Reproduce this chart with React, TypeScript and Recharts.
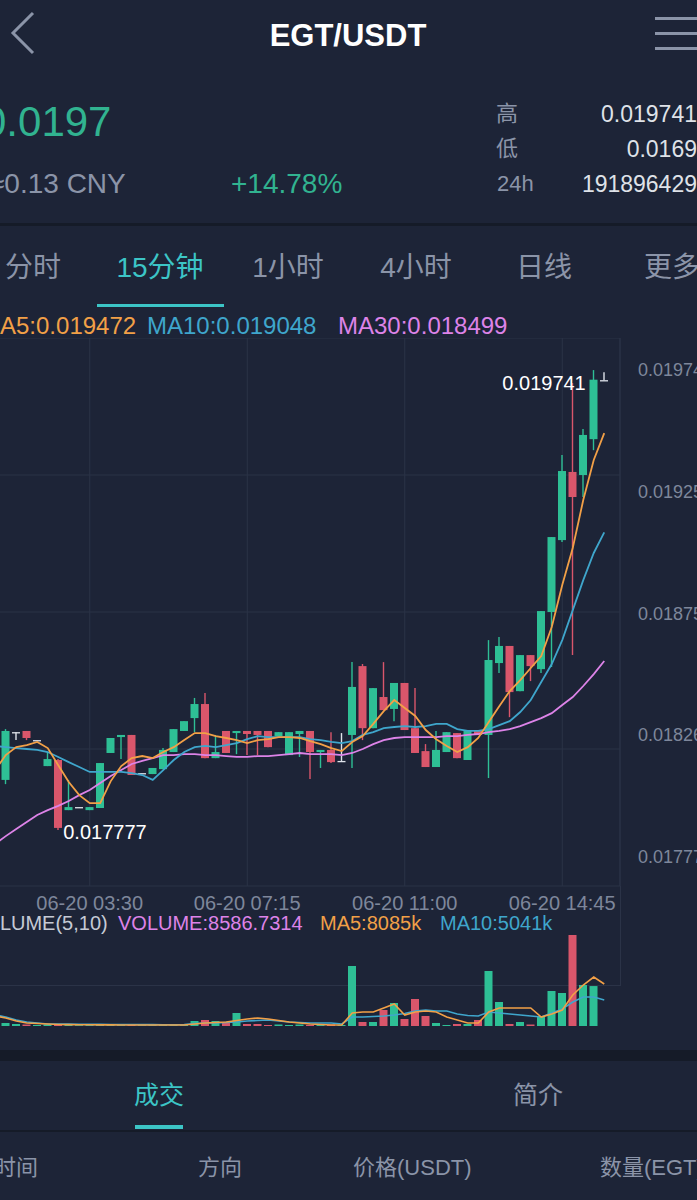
import React from "react";
import { ComposedChart, Bar, Line, XAxis, YAxis, CartesianGrid, ReferenceDot } from "recharts";

const W = 697;
const H = 1200;
const FONT = "'Liberation Sans', Arial, 'Noto Sans CJK SC', sans-serif";

const BG = "#1d2437";
const DARK = "#151b28";
const GRID = "#2b3347";
const GREEN = "#2ebf95";
const RED = "#d9566b";
const DOJI = "#dfe3ea";
const ORANGE = "#f2a047";
const BLUE = "#3fa6cc";
const PINK = "#dd83e8";
const TEAL = "#3cc5c6";
const GREY = "#8b94a8";
const AXIS_TEXT = "#7e879b";
const PRICE_GREEN = "#31b390";

// 15-minute slots (first slot is just left of the visible area, last one empty)
const TIMES = [
  "06-20 01:15", "06-20 01:30", "06-20 01:45", "06-20 02:00", "06-20 02:15", "06-20 02:30", "06-20 02:45", "06-20 03:00",
  "06-20 03:15", "06-20 03:30", "06-20 03:45", "06-20 04:00", "06-20 04:15", "06-20 04:30", "06-20 04:45", "06-20 05:00",
  "06-20 05:15", "06-20 05:30", "06-20 05:45", "06-20 06:00", "06-20 06:15", "06-20 06:30", "06-20 06:45", "06-20 07:00",
  "06-20 07:15", "06-20 07:30", "06-20 07:45", "06-20 08:00", "06-20 08:15", "06-20 08:30", "06-20 08:45", "06-20 09:00",
  "06-20 09:15", "06-20 09:30", "06-20 09:45", "06-20 10:00", "06-20 10:15", "06-20 10:30", "06-20 10:45", "06-20 11:00",
  "06-20 11:15", "06-20 11:30", "06-20 11:45", "06-20 12:00", "06-20 12:15", "06-20 12:30", "06-20 12:45", "06-20 13:00",
  "06-20 13:15", "06-20 13:30", "06-20 13:45", "06-20 14:00", "06-20 14:15", "06-20 14:30", "06-20 14:45", "06-20 15:00",
  "06-20 15:15", "06-20 15:30", "06-20 15:45", "06-20 16:00",
];

// candles start at 01:30
const OPEN = [
  0.017991, 0.018195, 0.0182, 0.018161, 0.01805, 0.018076, 0.017862, 0.017875, 0.017862, 0.017871,
  0.018106, 0.018174, 0.018183, 0.01802, 0.018016, 0.018037, 0.01811, 0.0182, 0.018255, 0.018315,
  0.018084, 0.0182, 0.018191, 0.0182, 0.0182, 0.0182, 0.018178, 0.018097, 0.018187, 0.0182,
  0.01811, 0.018119, 0.018072, 0.018183, 0.018477, 0.018212, 0.018345, 0.018294, 0.018405, 0.018212,
  0.018114, 0.018046, 0.01811, 0.018191, 0.018076, 0.018204, 0.018183, 0.01849, 0.018563, 0.01837,
  0.018524, 0.018464, 0.018708, 0.019015, 0.019306, 0.019293, 0.019446, 0.019698,
];
const CLOSE = [
  0.0182, 0.018195, 0.01817, 0.018161, 0.01808, 0.017786, 0.017875, 0.017875, 0.017875, 0.018063,
  0.01817, 0.018183, 0.018012, 0.01802, 0.018042, 0.018119, 0.018208, 0.018242, 0.018315, 0.018084,
  0.01811, 0.018106, 0.0182, 0.018187, 0.018183, 0.018131, 0.018195, 0.018195, 0.0182, 0.01811,
  0.018119, 0.018067, 0.018072, 0.018388, 0.018212, 0.018383, 0.018289, 0.018405, 0.018204, 0.018106,
  0.018046, 0.018119, 0.018195, 0.018084, 0.0182, 0.018183, 0.018503, 0.018563, 0.018366, 0.018524,
  0.018477, 0.018712, 0.019028, 0.01931, 0.019199, 0.019464, 0.0197, 0.019698,
];
const HIGH = [
  0.018208, 0.018195, 0.0182, 0.018161, 0.01811, 0.01808, 0.017991, 0.017875, 0.017875, 0.018063,
  0.01817, 0.018183, 0.018183, 0.01802, 0.018042, 0.018127, 0.018208, 0.018242, 0.018341, 0.018362,
  0.018183, 0.0182, 0.0182, 0.0182, 0.0182, 0.0182, 0.018195, 0.018195, 0.0182, 0.0182,
  0.018119, 0.018195, 0.018191, 0.018494, 0.018486, 0.018383, 0.018494, 0.018405, 0.018405, 0.018383,
  0.018144, 0.0182, 0.018195, 0.018191, 0.0182, 0.018204, 0.018588, 0.018601, 0.018563, 0.018524,
  0.018524, 0.018712, 0.019028, 0.019378, 0.019686, 0.019489, 0.019741, 0.019732,
];
const LOW = [
  0.017973, 0.018161, 0.018161, 0.018161, 0.01805, 0.017777, 0.017862, 0.017875, 0.017862, 0.017871,
  0.018106, 0.01808, 0.018012, 0.01802, 0.018016, 0.018037, 0.01811, 0.0182, 0.018195, 0.018084,
  0.018084, 0.018106, 0.018101, 0.018097, 0.018097, 0.018131, 0.018178, 0.018097, 0.018089, 0.017995,
  0.018042, 0.018063, 0.018072, 0.018042, 0.018161, 0.018212, 0.018289, 0.018242, 0.018204, 0.018106,
  0.018046, 0.018046, 0.01811, 0.018084, 0.018076, 0.018183, 0.017999, 0.018447, 0.018259, 0.01837,
  0.018413, 0.018447, 0.018473, 0.019007, 0.018524, 0.019199, 0.019399, 0.019698,
];
// volume in thousands
const VOLUME = [
  645, 430, 320, 215, 320, 430, 260, 180, 210, 300,
  240, 190, 220, 170, 200, 230, 280, 430, 1075, 1290,
  1075, 645, 2795, 430, 430, 215, 320, 215, 320, 215,
  215, 320, 215, 12900, 860, 860, 3440, 4945, 1505, 5805,
  2150, 645, 215, 430, 430, 1290, 11825, 5160, 430, 860,
  320, 2150, 7525, 7095, 19565, 8815, 8587, null,
];

// moving averages start at slot 0 (01:15)
const MA5 = [
  0.018033, 0.018097, 0.018131, 0.01814, 0.018153, 0.018127, 0.018054, 0.017982, 0.017926, 0.017892,
  0.017892, 0.017986, 0.01805, 0.018084, 0.018093, 0.018084, 0.01811, 0.018131, 0.018161, 0.018191,
  0.018191, 0.018178, 0.01817, 0.018161, 0.018148, 0.018161, 0.018165, 0.018174, 0.018174, 0.01817,
  0.018157, 0.018144, 0.018127, 0.018114, 0.018153, 0.018178, 0.01823, 0.018285, 0.018332, 0.018298,
  0.018264, 0.018204, 0.018165, 0.018136, 0.01811, 0.018131, 0.01817, 0.018238, 0.018306, 0.01837,
  0.018417, 0.018469, 0.01852, 0.018644, 0.018823, 0.018981, 0.019186, 0.019357, 0.019472,
];
const MA10 = [
  0.018136, 0.018131, 0.018127, 0.018123, 0.018119, 0.01811, 0.018089, 0.018067, 0.018046, 0.018025,
  0.018025, 0.018025, 0.018025, 0.01802, 0.018012, 0.017991, 0.018033, 0.018076, 0.01811, 0.018131,
  0.018136, 0.018131, 0.01814, 0.018148, 0.018165, 0.018178, 0.018174, 0.018174, 0.018174, 0.018174,
  0.018165, 0.018161, 0.018153, 0.018148, 0.018157, 0.018183, 0.018195, 0.018212, 0.018217, 0.018221,
  0.018217, 0.018221, 0.01823, 0.01823, 0.018208, 0.0182, 0.0182, 0.018208, 0.018225, 0.018242,
  0.018281, 0.018332, 0.018409, 0.018486, 0.018588, 0.018716, 0.018844, 0.01896, 0.019048,
];
const MA30 = [
  0.017717, 0.017751, 0.017781, 0.017811, 0.017841, 0.017862, 0.01788, 0.017901, 0.017926, 0.017948,
  0.017978, 0.018008, 0.018033, 0.018059, 0.018072, 0.018084, 0.018097, 0.018097, 0.018101, 0.018101,
  0.018097, 0.018097, 0.018093, 0.018089, 0.018089, 0.018093, 0.018093, 0.018097, 0.018101, 0.018106,
  0.018101, 0.018101, 0.018101, 0.018097, 0.018106, 0.018123, 0.018144, 0.018161, 0.01817, 0.018174,
  0.018174, 0.018174, 0.018174, 0.018178, 0.018178, 0.018183, 0.018187, 0.018195, 0.0182, 0.018208,
  0.018221, 0.018238, 0.018255, 0.018276, 0.018311, 0.018345, 0.018392, 0.018443, 0.018499,
];
const VOL_MA5 = [
  2150, 1720, 1075, 645, 540, 430, 320, 300, 280, 260,
  250, 240, 230, 230, 220, 220, 220, 220, 230, 430,
  645, 750, 860, 1180, 1505, 1720, 1505, 1180, 860, 645,
  430, 320, 215, 215, 2795, 3010, 3010, 3870, 4730, 2365,
  3010, 3225, 3010, 1935, 1290, 645, 645, 3010, 3870, 3870,
  3870, 3870, 1935, 2580, 3440, 6665, 8815, 10535, 9030,
];
const VOL_MA10 = [
  2365, 1935, 1290, 860, 645, 430, 420, 400, 380, 360,
  340, 330, 320, 310, 300, 290, 280, 280, 300, 540,
  645, 645, 750, 860, 1075, 1180, 1290, 1075, 860, 750,
  645, 645, 645, 430, 1935, 1935, 2040, 2150, 2365, 2690,
  3225, 3440, 3225, 3225, 2580, 2260, 2150, 3010, 2795, 2580,
  2365, 2150, 1935, 2795, 3655, 5160, 6235, 6235, 5590,
];

const X_TICKS = ["06-20 03:30", "06-20 07:15", "06-20 11:00", "06-20 14:45"];
const Y_TICK_VALUES = [0.019741, 0.01922, 0.018699, 0.018183, 0.017662];
const Y_TICK_LABELS = ["0.019741", "0.019250", "0.018759", "0.018268", "0.017777"];
const PRICE_DOMAIN: [number, number] = [0.017538, 0.019878];
const VOL_DOMAIN: [number, number] = [0, 30100];
const GRID_TICKS = [0, 1, 2, 3, 4].map(
  (k) => PRICE_DOMAIN[0] + (k * (PRICE_DOMAIN[1] - PRICE_DOMAIN[0])) / 4
);

const data = TIMES.map((t, s) => {
  const i = s - 1;
  const has = i >= 0 && i < OPEN.length;
  return {
    t,
    o: has ? OPEN[i] : null,
    c: has ? CLOSE[i] : null,
    h: has ? HIGH[i] : null,
    l: has ? LOW[i] : null,
    v: has ? VOLUME[i] : null,
    ma5: s < MA5.length ? MA5[s] : null,
    ma10: s < MA10.length ? MA10[s] : null,
    ma30: s < MA30.length ? MA30[s] : null,
    vma5: s < VOL_MA5.length ? VOL_MA5[s] : null,
    vma10: s < VOL_MA10.length ? VOL_MA10[s] : null,
  };
});

const maxHigh = Math.max(...HIGH);
const minLow = Math.min(...LOW);
const maxIdx = HIGH.indexOf(maxHigh);
const minIdx = LOW.indexOf(minLow);

const candleRange = (d: any) => (d.o == null ? null : [d.l, d.h]);

function Candle(props: any) {
  const { x, y, width, height, payload } = props;
  if (!payload || payload.o == null) return null;
  const { o, c, h, l } = payload;
  const span = h - l;
  const toY = (v: number) => (span > 0 ? y + ((h - v) / span) * height : y);
  const color = c > o ? GREEN : c < o ? RED : DOJI;
  const cx = x + width / 2;
  const yo = toY(o);
  const yc = toY(c);
  const top = Math.min(yo, yc);
  const bh = Math.max(Math.abs(yo - yc), 1.3);
  return (
    <g>
      {height > 0 && <line x1={cx} x2={cx} y1={y} y2={y + height} stroke={color} strokeWidth={1.4} />}
      <rect x={x} y={top} width={width} height={bh} fill={color} />
    </g>
  );
}

function VolBar(props: any) {
  const { x, y, width, height, payload } = props;
  if (!payload || payload.v == null) return null;
  const color = payload.c < payload.o ? RED : GREEN;
  return <rect x={x} y={y} width={width} height={Math.max(height, 0.8)} fill={color} />;
}

type TProps = {
  x: number;
  cy: number;
  size: number;
  color: string;
  anchor?: "start" | "middle" | "end";
  weight?: number;
  children: React.ReactNode;
};
function T({ x, cy, size, color, anchor = "start", weight = 400, children }: TProps) {
  const h = Math.round(size * 1.2);
  const style: React.CSSProperties = {
    position: "absolute",
    top: cy - h / 2,
    height: h,
    lineHeight: `${h}px`,
    fontSize: size,
    color,
    fontWeight: weight,
    fontFamily: FONT,
    whiteSpace: "nowrap",
  };
  if (anchor === "start") style.left = x;
  else if (anchor === "end") style.right = W - x;
  else {
    style.left = x;
    style.transform = "translateX(-50%)";
  }
  return <div style={style}>{children}</div>;
}

const Box = ({ l, t, w, h, c }: { l: number; t: number; w: number; h: number; c: string }) => (
  <div style={{ position: "absolute", left: l, top: t, width: w, height: h, background: c }} />
);

export default function App() {
  return (
    <div
      style={{
        position: "absolute",
        left: 0,
        top: 0,
        width: W,
        height: H,
        overflow: "hidden",
        background: BG,
        fontFamily: FONT,
      }}
    >
      {/* header */}
      <svg style={{ position: "absolute", left: 0, top: 0 }} width={60} height={70}>
        <polyline points="33,13 13,33 33,53" fill="none" stroke={GREY} strokeWidth={3} />
      </svg>
      <T x={348} cy={35} size={31} color="#ffffff" anchor="middle" weight={700}>
        EGT/USDT
      </T>
      <Box l={655} t={17} w={45} h={3} c={GREY} />
      <Box l={655} t={32} w={45} h={3} c={GREY} />
      <Box l={655} t={47} w={45} h={3} c={GREY} />

      <T x={-17} cy={122} size={42} color={PRICE_GREEN}>
        0.0197
      </T>
      <T x={-11} cy={184} size={28} color={GREY}>
        ≈0.13 CNY
      </T>
      <T x={231} cy={184} size={28} color={PRICE_GREEN}>
        +14.78%
      </T>
      <T x={496} cy={114} size={22} color={GREY}>
        高
      </T>
      <T x={496} cy={149} size={22} color={GREY}>
        低
      </T>
      <T x={497} cy={184} size={22} color={GREY}>
        24h
      </T>
      <T x={697} cy={114} size={23} color="#dfe2e8" anchor="end">
        0.019741
      </T>
      <T x={697} cy={149} size={23} color="#dfe2e8" anchor="end">
        0.0169
      </T>
      <T x={697} cy={184} size={23} color="#dfe2e8" anchor="end">
        191896429
      </T>
      <Box l={0} t={223} w={W} h={3} c={DARK} />

      {/* period tabs */}
      <T x={33} cy={268} size={28} color={GREY} anchor="middle">分时</T>
      <T x={160} cy={268} size={28} color={TEAL} anchor="middle">15分钟</T>
      <T x={288} cy={268} size={28} color={GREY} anchor="middle">1小时</T>
      <T x={416} cy={268} size={28} color={GREY} anchor="middle">4小时</T>
      <T x={544} cy={268} size={28} color={GREY} anchor="middle">日线</T>
      <T x={644} cy={268} size={28} color={GREY}>更多</T>
      <Box l={97} t={304} w={127} h={3} c={TEAL} />

      {/* MA legend */}
      <T x={-20} cy={325} size={24} color={ORANGE}>MA5:0.019472</T>
      <T x={147} cy={325} size={24} color={BLUE}>MA10:0.019048</T>
      <T x={338} cy={325} size={24} color={PINK}>MA30:0.018499</T>

      {/* main candlestick chart */}
      <div style={{ position: "absolute", left: -10, top: 338 }}>
        <ComposedChart
          width={730}
          height={578}
          data={data}
          margin={{ top: 0, right: 0, bottom: 0, left: 0 }}
          style={{ fontFamily: FONT }}
        >
          <CartesianGrid yAxisId="grid" stroke={GRID} strokeWidth={1} />
          <XAxis
            dataKey="t"
            ticks={X_TICKS}
            interval={0}
            tickLine={false}
            axisLine={false}
            tickSize={0}
            tickMargin={10}
            height={30}
            tick={{ fill: AXIS_TEXT, fontSize: 20, fontFamily: FONT }}
          />
          <YAxis yAxisId="grid" hide type="number" domain={PRICE_DOMAIN} ticks={GRID_TICKS} allowDataOverflow />
          <YAxis
            yAxisId="p"
            orientation="right"
            type="number"
            width={100}
            domain={PRICE_DOMAIN}
            allowDataOverflow
            ticks={Y_TICK_VALUES}
            interval={0}
            tickFormatter={(_v: number, idx: number) => Y_TICK_LABELS[idx]}
            tickLine={false}
            tickSize={0}
            tickMargin={18}
            axisLine={{ stroke: GRID }}
            tick={{ fill: AXIS_TEXT, fontSize: 18, fontFamily: FONT, textAnchor: "start" }}
          />
          <Bar yAxisId="p" dataKey={candleRange} barSize={8} shape={<Candle />} isAnimationActive={false} />
          <Line yAxisId="p" dataKey="ma30" stroke={PINK} strokeWidth={1.8} dot={false} isAnimationActive={false} />
          <Line yAxisId="p" dataKey="ma10" stroke={BLUE} strokeWidth={1.8} dot={false} isAnimationActive={false} />
          <Line yAxisId="p" dataKey="ma5" stroke={ORANGE} strokeWidth={1.8} dot={false} isAnimationActive={false} />
          <ReferenceDot
            yAxisId="p"
            x={TIMES[maxIdx + 1]}
            y={maxHigh}
            r={1}
            shape={(p: any) => (
              <text x={p.cx - 8} y={p.cy + 20} textAnchor="end" fill="#ffffff" fontSize={20} fontFamily={FONT}>
                {maxHigh.toFixed(6)}
              </text>
            )}
          />
          <ReferenceDot
            yAxisId="p"
            x={TIMES[minIdx + 1]}
            y={minLow}
            r={1}
            shape={(p: any) => (
              <text x={p.cx + 5} y={p.cy + 9} textAnchor="start" fill="#ffffff" fontSize={20} fontFamily={FONT}>
                {minLow.toFixed(6)}
              </text>
            )}
          />
        </ComposedChart>
      </div>

      {/* volume legend */}
      <T x={-29} cy={923} size={20} color="#c5cad5">VOLUME(5,10)</T>
      <T x={118} cy={923} size={20} color={PINK}>VOLUME:8586.7314</T>
      <T x={320} cy={923} size={20} color={ORANGE}>MA5:8085k</T>
      <T x={440} cy={923} size={20} color={BLUE}>MA10:5041k</T>

      {/* volume panel frame */}
      <Box l={0} t={985} w={620} h={1} c={GRID} />
      <Box l={620} t={886} w={1} h={100} c={GRID} />

      {/* volume chart */}
      <div style={{ position: "absolute", left: -10, top: 886 }}>
        <ComposedChart width={630} height={140} data={data} margin={{ top: 0, right: 0, bottom: 0, left: 0 }}>
          <XAxis dataKey="t" hide />
          <YAxis hide type="number" domain={VOL_DOMAIN} allowDataOverflow />
          <Bar dataKey="v" barSize={8} shape={<VolBar />} isAnimationActive={false} />
          <Line dataKey="vma10" stroke={BLUE} strokeWidth={1.6} dot={false} isAnimationActive={false} />
          <Line dataKey="vma5" stroke={ORANGE} strokeWidth={1.6} dot={false} isAnimationActive={false} />
        </ComposedChart>
      </div>

      {/* bottom section */}
      <Box l={0} t={1050} w={W} h={11} c={DARK} />
      <T x={159} cy={1095} size={25} color={TEAL} anchor="middle">成交</T>
      <T x={538} cy={1095} size={25} color={GREY} anchor="middle">简介</T>
      <Box l={135} t={1125} w={48} h={4} c={TEAL} />
      <Box l={0} t={1130} w={W} h={2} c={DARK} />
      <T x={-6} cy={1168} size={22} color={GREY}>时间</T>
      <T x={198} cy={1168} size={22} color={GREY}>方向</T>
      <T x={353} cy={1168} size={22} color={GREY}>价格(USDT)</T>
      <T x={600} cy={1168} size={22} color={GREY}>数量(EGT)</T>
    </div>
  );
}
